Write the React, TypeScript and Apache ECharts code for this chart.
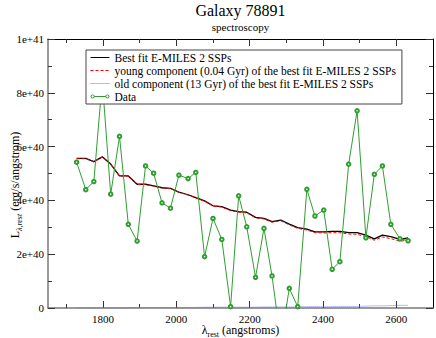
import { useEffect, useRef } from 'react';
import * as echarts from 'echarts';

const FONT = '"Liberation Serif", "DejaVu Serif", serif';

// Wavelengths (angstroms)
const wavelengths = [1728, 1753, 1775, 1798, 1821, 1845, 1869, 1893, 1916, 1938, 1961, 1984, 2007, 2032, 2053, 2077, 2100, 2124, 2148, 2170, 2192, 2216, 2239, 2261, 2285, 2308, 2331, 2356, 2378, 2402, 2425, 2446, 2470, 2493, 2517, 2540, 2562, 2585, 2610, 2632];

// Values in units of 1e40 erg/s/angstrom
const bestFit = [5.56, 5.56, 5.44, 5.62, 5.35, 4.91, 4.91, 4.60, 4.60, 4.54, 4.47, 4.45, 4.31, 4.21, 4.10, 3.98, 3.80, 3.77, 3.64, 3.58, 3.56, 3.37, 3.33, 3.21, 3.27, 3.12, 2.99, 2.93, 2.83, 2.83, 2.85, 2.85, 2.80, 2.80, 2.71, 2.57, 2.71, 2.65, 2.55, 2.61];
const youngComp = [5.55, 5.55, 5.43, 5.61, 5.34, 4.90, 4.90, 4.59, 4.59, 4.53, 4.46, 4.44, 4.30, 4.20, 4.09, 3.97, 3.79, 3.75, 3.62, 3.56, 3.54, 3.35, 3.31, 3.19, 3.24, 3.09, 2.96, 2.90, 2.80, 2.79, 2.80, 2.80, 2.75, 2.74, 2.65, 2.52, 2.64, 2.58, 2.48, 2.53];
const oldComp = [0.01, 0.01, 0.01, 0.01, 0.01, 0.01, 0.01, 0.02, 0.02, 0.02, 0.02, 0.02, 0.02, 0.02, 0.02, 0.03, 0.03, 0.03, 0.03, 0.03, 0.03, 0.03, 0.04, 0.04, 0.04, 0.04, 0.04, 0.05, 0.05, 0.05, 0.05, 0.06, 0.06, 0.06, 0.07, 0.08, 0.08, 0.09, 0.10, 0.10];
const observed = [5.42, 4.40, 4.70, 8.45, 4.23, 6.38, 3.11, 2.49, 5.28, 5.01, 3.91, 3.71, 4.94, 4.81, 5.04, 1.91, 3.33, 2.55, 0.05, 4.17, 3.02, 1.14, 2.96, 1.19, -1.26, 0.73, 0.05, 4.41, 3.42, 3.64, 1.44, 1.72, 5.35, 7.33, 2.61, 4.97, 5.28, 3.11, 2.57, 2.50];
const UNIT = 1e40;

const xMajorTicks = [1800, 2000, 2200, 2400, 2600];
const xMinorTicks = [1700, 1900, 2100, 2300, 2500];

const seriesNames = [
  'Best fit E-MILES 2 SSPs',
  'young component (0.04 Gyr) of the best fit E-MILES 2 SSPs',
  'old component (13 Gyr) of the best fit E-MILES 2 SSPs',
  'Data',
];

const GREEN = '#2f9e2f';
const BLUE = '#7070ff';

// legend icon "o—o" for the data series
const DATA_ICON =
  'path://M0.5,2.5 A2,2 0 1,1 4.5,2.5 A2,2 0 1,1 0.5,2.5 Z M1.4,2.5 A1.1,1.1 0 1,0 3.6,2.5 A1.1,1.1 0 1,0 1.4,2.5 Z ' +
  'M4.5,2.1 L14.5,2.1 L14.5,2.9 L4.5,2.9 Z ' +
  'M14.5,2.5 A2,2 0 1,1 18.5,2.5 A2,2 0 1,1 14.5,2.5 Z M15.4,2.5 A1.1,1.1 0 1,0 17.6,2.5 A1.1,1.1 0 1,0 15.4,2.5 Z';

function pairs(vals: number[]) {
  return wavelengths.map((x, i) => [x, vals[i] * UNIT]);
}

function yLabel(v: number) {
  if (v === 0) return '0';
  return v.toExponential(0);
}

export default function App() {
  const ref = useRef<HTMLDivElement>(null);
  useEffect(() => {
    const chart = echarts.init(ref.current!, null, { renderer: 'svg' });
    const xBase = { type: 'value', min: 1650, max: 2700, splitLine: { show: false }, gridIndex: 0 };
    const yBase = { type: 'value', min: 0, max: 1e41, interval: 2e40, splitLine: { show: false }, minorSplitLine: { show: false } };
    const hiddenSymbol = { opacity: 0 };
    const option: any = {
      animation: false,
      textStyle: { fontFamily: FONT },
      grid: { left: 48, top: 39, right: 3, bottom: 30, containLabel: false, outerBoundsMode: 'none' },
      xAxis: [
        {
          ...xBase, position: 'bottom',
          axisLine: { show: true, onZero: false, lineStyle: { color: '#7a7a7a', width: 1.5 } },
          axisTick: { show: true, inside: true, length: 7, customValues: xMajorTicks, lineStyle: { color: '#333' } },
          axisLabel: { show: true, customValues: xMajorTicks, formatter: (v: number) => String(v), fontFamily: FONT, fontSize: 11, color: '#000', margin: 5 },
        },
        {
          ...xBase, position: 'bottom',
          axisLine: { show: false, onZero: false },
          axisTick: { show: true, inside: true, length: 4, customValues: xMinorTicks, lineStyle: { color: '#333' } },
          axisLabel: { show: false },
        },
        {
          ...xBase, position: 'top',
          axisLine: { show: true, onZero: false, lineStyle: { color: '#000', width: 1 } },
          axisTick: { show: true, inside: true, length: 7, customValues: xMajorTicks, lineStyle: { color: '#333' } },
          axisLabel: { show: false },
        },
        {
          ...xBase, position: 'top',
          axisLine: { show: false, onZero: false },
          axisTick: { show: true, inside: true, length: 4, customValues: xMinorTicks, lineStyle: { color: '#333' } },
          axisLabel: { show: false },
        },
      ],
      yAxis: [
        {
          ...yBase, position: 'left',
          axisLine: { show: true, onZero: false, lineStyle: { color: '#7a7a7a', width: 1.5 } },
          axisTick: { show: true, inside: true, length: 7, lineStyle: { color: '#333' } },
          minorTick: { show: true, splitNumber: 2, length: 4, lineStyle: { color: '#333' } },
          axisLabel: { show: true, formatter: yLabel, fontFamily: FONT, fontSize: 11, color: '#000', margin: 4 },
        },
        {
          ...yBase, position: 'right',
          axisLine: { show: true, onZero: false, lineStyle: { color: '#000', width: 1 } },
          axisTick: { show: true, inside: true, length: 7, lineStyle: { color: '#333' } },
          minorTick: { show: true, splitNumber: 2, length: 4, lineStyle: { color: '#333' } },
          axisLabel: { show: false },
        },
      ],
      legend: {
        show: true,
        left: 86,
        top: 50,
        orient: 'vertical',
        itemWidth: 19,
        itemHeight: 5,
        itemGap: 0,
        padding: [1, 6, 1, 4],
        backgroundColor: '#fff',
        borderColor: '#444',
        borderWidth: 1,
        selectedMode: false,
        textStyle: { fontFamily: FONT, fontSize: 11.5, color: '#000', lineHeight: 13 },
        data: [
          { name: seriesNames[0], itemStyle: hiddenSymbol, lineStyle: { width: 1 } },
          { name: seriesNames[1], itemStyle: hiddenSymbol, lineStyle: { width: 1 } },
          { name: seriesNames[2], itemStyle: hiddenSymbol, lineStyle: { width: 1 } },
          { name: seriesNames[3], icon: DATA_ICON, itemStyle: { color: GREEN, borderWidth: 0 } },
        ],
      },
      series: [
        {
          name: seriesNames[0], type: 'line', xAxisIndex: 0, yAxisIndex: 0,
          data: pairs(bestFit), symbol: 'none', silent: true,
          lineStyle: { color: '#000', width: 1.3 }, itemStyle: { color: '#000' },
        },
        {
          name: seriesNames[1], type: 'line', xAxisIndex: 0, yAxisIndex: 0,
          data: pairs(youngComp), symbol: 'none', silent: true,
          lineStyle: { color: '#ff0000', width: 1, type: [3, 2] }, itemStyle: { color: '#ff0000' },
        },
        {
          name: seriesNames[2], type: 'line', xAxisIndex: 0, yAxisIndex: 0,
          data: pairs(oldComp), symbol: 'none', silent: true,
          lineStyle: { color: BLUE, width: 1, type: [1, 1] }, itemStyle: { color: BLUE },
        },
        {
          name: seriesNames[3], type: 'line', xAxisIndex: 0, yAxisIndex: 0,
          data: pairs(observed), symbol: 'emptyCircle', symbolSize: 3.5, showSymbol: true, silent: true,
          clip: true,
          lineStyle: { color: GREEN, width: 1 },
          itemStyle: { color: GREEN, borderColor: GREEN, borderWidth: 1 },
        },
      ],
      graphic: [
        {
          type: 'text', x: 240.5, y: 10,
          style: { text: 'Galaxy 78891', fontFamily: FONT, fontSize: 16, fill: '#000', align: 'center', verticalAlign: 'middle' },
        },
        {
          type: 'text', x: 240.5, y: 27,
          style: { text: 'spectroscopy', fontFamily: FONT, fontSize: 11, fill: '#000', align: 'center', verticalAlign: 'middle' },
        },
        {
          type: 'text', x: 240.5, y: 330,
          style: {
            text: '{m|λ}{s|rest}{m| (angstroms)}',
            align: 'center', verticalAlign: 'middle', fill: '#000',
            rich: {
              m: { fontFamily: FONT, fontSize: 12, lineHeight: 12, verticalAlign: 'top', fill: '#000' },
              s: { fontFamily: FONT, fontSize: 8, lineHeight: 8, padding: [6, 0, 0, 0], verticalAlign: 'top', fill: '#000' },
            },
          },
        },
        {
          type: 'text', x: 15, y: 185, rotation: Math.PI / 2,
          style: {
            text: '{m|L}{s|λ,rest}{m| (erg/s/angstrom)}',
            align: 'center', verticalAlign: 'middle', fill: '#000',
            rich: {
              m: { fontFamily: FONT, fontSize: 12, lineHeight: 12, verticalAlign: 'top', fill: '#000' },
              s: { fontFamily: FONT, fontSize: 8, fontStyle: 'italic', lineHeight: 8, padding: [6, 0, 0, 0], verticalAlign: 'top', fill: '#000' },
            },
          },
        },
      ],
    };
    chart.setOption(option);
    return () => chart.dispose();
  }, []);
  return <div ref={ref} style={{ position: 'absolute', left: 0, top: 0, width: 436, height: 338 }} />;
}
